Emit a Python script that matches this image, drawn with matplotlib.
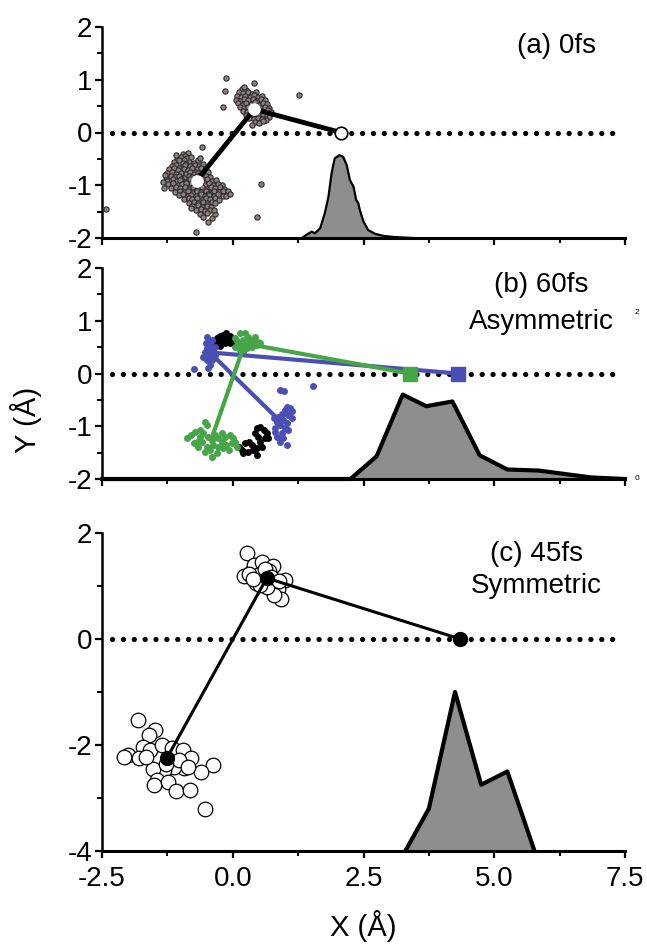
import matplotlib
matplotlib.use('Agg')
import matplotlib.pyplot as plt
from matplotlib.ticker import MultipleLocator

plt.rcParams['font.family'] = ['Liberation Sans', 'DejaVu Sans']

# ---------------- Panel (a) 0 fs ----------------
a_cloud1 = [(-0.96,-0.41),(-0.86,-0.38),(-0.91,-0.45),
    (-1.06,-0.50),(-0.99,-0.46),(-0.87,-0.49),(-0.79,-0.47),(-0.93,-0.52),
    (-1.12,-0.56),(-1.03,-0.53),(-0.95,-0.58),(-0.84,-0.55),(-0.75,-0.57),(-0.67,-0.53),(-0.89,-0.60),
    (-1.16,-0.63),(-1.08,-0.61),(-0.98,-0.65),(-0.91,-0.62),(-0.81,-0.64),(-0.72,-0.61),(-0.64,-0.63),(-0.56,-0.60),(-1.02,-0.68),
    (-1.21,-0.70),(-1.13,-0.67),(-1.04,-0.72),(-0.94,-0.69),(-0.86,-0.71),(-0.78,-0.68),(-0.69,-0.70),(-0.60,-0.67),(-0.51,-0.71),(-0.73,-0.74),
    (-1.25,-0.77),(-1.16,-0.75),(-1.08,-0.78),(-0.99,-0.76),(-0.89,-0.79),(-0.81,-0.75),(-0.74,-0.78),(-0.66,-0.76),(-0.56,-0.78),(-0.47,-0.75),(-0.62,-0.81),
    (-1.27,-0.84),(-1.19,-0.82),(-1.10,-0.85),(-1.02,-0.83),(-0.94,-0.86),(-0.84,-0.82),(-0.77,-0.85),(-0.69,-0.83),(-0.59,-0.86),(-0.52,-0.82),(-0.43,-0.85),(-0.98,-0.89),
    (-1.26,-0.91),(-1.15,-0.89),(-1.07,-0.92),(-1.00,-0.90),(-0.91,-0.93),(-0.82,-0.89),(-0.74,-0.92),(-0.65,-0.90),(-0.57,-0.93),(-0.49,-0.89),(-0.40,-0.92),(-0.32,-0.90),(-0.55,-0.96),
    (-1.23,-0.98),(-1.14,-0.96),(-1.04,-0.99),(-0.97,-0.97),(-0.87,-1.00),(-0.79,-0.96),(-0.72,-0.99),(-0.62,-0.97),(-0.54,-1.00),(-0.45,-0.96),(-0.37,-0.99),(-0.28,-0.97),(-0.20,-1.00),(-0.90,-0.95),
    (-1.18,-1.05),(-1.08,-1.03),(-1.01,-1.06),(-0.91,-1.04),(-0.83,-1.07),(-0.76,-1.03),(-0.66,-1.06),(-0.59,-1.04),(-0.49,-1.07),(-0.41,-1.03),(-0.34,-1.06),(-0.24,-1.04),(-0.16,-1.07),(-0.70,-1.10),
    (-1.11,-1.12),(-1.01,-1.10),(-0.94,-1.13),(-0.86,-1.11),(-0.76,-1.14),(-0.69,-1.10),(-0.61,-1.13),(-0.52,-1.11),(-0.42,-1.14),(-0.36,-1.10),(-0.27,-1.13),(-0.19,-1.11),(-0.47,-1.17),
    (-1.03,-1.19),(-0.95,-1.17),(-0.85,-1.20),(-0.79,-1.18),(-0.70,-1.21),(-0.60,-1.17),(-0.54,-1.20),(-0.45,-1.18),(-0.35,-1.21),(-0.28,-1.17),(-0.18,-1.20),
    (-0.93,-1.26),(-0.83,-1.24),(-0.77,-1.27),(-0.68,-1.25),(-0.58,-1.28),(-0.51,-1.24),(-0.43,-1.27),(-0.33,-1.25),(-0.26,-1.28),(-0.63,-1.31),
    (-0.84,-1.33),(-0.74,-1.31),(-0.67,-1.34),(-0.57,-1.32),(-0.50,-1.35),(-0.40,-1.31),(-0.33,-1.34),
    (-0.77,-1.40),(-0.66,-1.38),(-0.59,-1.41),(-0.49,-1.39),(-0.42,-1.42),
    (-0.71,-1.47),(-0.60,-1.45),(-0.53,-1.48),(-0.43,-1.46),
    (-0.63,-1.54),(-0.49,-1.52),(-0.56,-1.60),(-0.40,-1.62),(-0.47,-1.70),(-0.33,-1.55),
    (-1.34,-0.93),(-1.31,-1.05),(-1.30,-0.80),(-0.10,-1.10),(-0.13,-1.20),(-0.05,-1.16),
    (-0.80,-1.44),(-0.35,-1.47),(-1.08,-0.42),(-0.62,-0.48)]
a_cloud2 = [(0.17,0.83),(0.26,0.80),(0.21,0.87),
    (0.12,0.76),(0.20,0.74),(0.29,0.77),(0.37,0.73),(0.44,0.76),
    (0.08,0.69),(0.16,0.67),(0.24,0.70),(0.33,0.68),(0.41,0.71),(0.49,0.67),(0.56,0.70),
    (0.06,0.62),(0.14,0.60),(0.22,0.63),(0.30,0.61),(0.38,0.64),(0.46,0.60),(0.54,0.63),(0.62,0.61),
    (0.10,0.55),(0.18,0.53),(0.26,0.56),(0.34,0.54),(0.42,0.57),(0.50,0.53),(0.58,0.56),(0.66,0.54),
    (0.13,0.48),(0.21,0.46),(0.29,0.49),(0.37,0.47),(0.45,0.50),(0.53,0.46),(0.61,0.49),(0.69,0.47),
    (0.19,0.41),(0.27,0.39),(0.35,0.42),(0.43,0.40),(0.51,0.43),(0.59,0.39),(0.67,0.42),(0.73,0.38),
    (0.25,0.34),(0.33,0.32),(0.41,0.35),(0.49,0.33),(0.57,0.36),(0.65,0.32),(0.70,0.29),
    (0.32,0.27),(0.40,0.25),(0.48,0.28),(0.56,0.26),(0.63,0.24),
    (0.42,0.20),(0.50,0.18),(0.57,0.21),(0.36,0.14)]
a_outliers = [(-0.13,1.03),(-0.15,0.79),(-0.19,0.48),(0.41,0.93),(1.27,0.71),
    (-0.59,-0.28),(0.54,-0.98),(0.46,-1.61),(-0.71,-1.89),(-2.42,-1.45)]
a_atoms_x = [-0.69, 0.41, 2.07]
a_atoms_y = [-0.91, 0.44, 0.0]
a_hist_x = [1.32, 1.41, 1.51, 1.57, 1.67, 1.76, 1.83, 1.89, 1.95, 2.04, 2.11, 2.18,
            2.24, 2.31, 2.36, 2.40, 2.43, 2.50, 2.59, 2.72, 2.88, 3.07, 3.45]
a_hist_y = [-2.0, -1.94, -1.88, -1.91, -1.82, -1.53, -1.22, -0.77, -0.49, -0.43, -0.46, -0.62,
            -0.90, -1.03, -1.28, -1.34, -1.47, -1.69, -1.85, -1.92, -1.96, -1.98, -2.0]

# ---------------- Panel (b) 60 fs asymmetric ----------------
b_black = [(-0.31,0.67),(-0.24,0.71),(-0.18,0.73),(-0.12,0.70),(-0.05,0.71),(-0.02,0.65),
    (-0.08,0.60),(-0.15,0.57),(-0.21,0.60),(-0.28,0.59),(-0.32,0.54),(-0.24,0.52),(-0.05,0.57),
    (-0.12,0.76),(-0.19,0.65),(0.01,0.60),(-0.27,0.63),(-0.10,0.64),
    (0.11,-1.39),(0.17,-1.45),(0.20,-1.51),(0.30,-1.48),(0.36,-1.36),(0.32,-1.29),(0.46,-1.04),
    (0.52,-1.01),(0.59,-1.07),(0.65,-1.13),(0.62,-1.23),(0.52,-1.29),(0.55,-1.39),(0.46,-1.42),
    (0.39,-1.45),(0.46,-1.55),(0.68,-1.23),(0.43,-1.13),(0.49,-1.20),(0.23,-1.32)]
b_green = [(0.04,0.67),(0.14,0.76),(0.23,0.77),(0.30,0.70),(0.39,0.64),(0.49,0.60),(0.46,0.54),
    (0.36,0.51),(0.27,0.48),(0.17,0.51),(0.11,0.57),(0.04,0.51),(0.20,0.41),(0.33,0.57),(0.20,0.64),
    (0.43,0.70),(0.14,0.45),(0.52,0.57),(0.27,0.60),(0.08,0.62),(0.40,0.58),
    (-0.88,-1.23),(-0.79,-1.17),(-0.72,-1.10),(-0.63,-1.07),(-0.53,-0.91),(-0.50,-0.98),(-0.56,-1.13),
    (-0.47,-1.20),(-0.40,-1.26),(-0.34,-1.17),(-0.28,-1.23),(-0.21,-1.29),(-0.15,-1.20),(-0.05,-1.17),
    (0.01,-1.23),(-0.02,-1.32),(-0.12,-1.36),(-0.18,-1.42),(-0.28,-1.39),(-0.37,-1.36),(-0.44,-1.45),
    (-0.50,-1.39),(-0.59,-1.29),(-0.69,-1.29),(-0.75,-1.32),(-0.66,-1.39),(-0.40,-1.58),(-0.31,-1.51),
    (-0.08,-1.45),(0.04,-1.29),(0.08,-1.39),(-0.53,-1.48),(-0.21,-1.13),(-0.63,-1.20)]
b_blue = [(-0.50,0.70),(-0.47,0.60),(-0.44,0.54),(-0.50,0.48),(-0.53,0.41),(-0.44,0.38),(-0.37,0.45),
    (-0.34,0.35),(-0.47,0.32),(-0.56,0.32),(-0.50,0.26),(-0.40,0.26),(-0.44,0.16),(-0.47,0.10),
    (-0.34,0.51),(-0.40,0.64),(-0.75,0.08),(-0.52,0.58),(-0.42,0.44),
    (0.90,-0.31),(0.98,-0.34),(1.03,-0.63),(1.10,-0.66),(1.00,-0.69),(0.94,-0.76),(0.87,-0.82),
    (1.06,-0.79),(1.13,-0.85),(0.97,-0.88),(0.84,-0.91),(1.03,-0.94),(0.90,-0.98),(0.81,-1.04),
    (1.00,-1.04),(1.06,-1.07),(0.94,-1.13),(0.84,-1.20),(0.97,-1.23),(1.03,-1.36),(0.90,-1.29),
    (0.81,-1.10),(1.13,-0.72),(0.78,-0.85),(1.54,-0.24)]
b_green_bond_x = [-0.40, 0.23, 3.38]
b_green_bond_y = [-1.22, 0.57, 0.0]
b_blue_bond_x = [0.85, -0.44, 4.30]
b_blue_bond_y = [-0.85, 0.40, 0.0]
b_hist_x = [-2.5, 2.25, 2.75, 3.25, 3.70, 4.20, 4.72, 5.25, 5.85, 6.85, 7.5]
b_hist_y = [-2.0, -2.0, -1.57, -0.40, -0.62, -0.53, -1.55, -1.82, -1.84, -1.97, -2.0]

# ---------------- Panel (c) 45 fs symmetric ----------------
c_top = [(0.28,1.62),(0.22,1.18),(0.37,1.28),(0.41,1.40),(0.55,1.45),(0.77,1.37),(0.69,1.28),
    (0.49,1.21),(0.57,1.09),(0.45,1.05),(0.77,1.02),(1.00,1.12),(0.86,0.94),(0.93,0.75),(0.78,0.83),
    (0.65,0.98),(0.32,1.23),(0.61,1.32),(0.74,1.17),(0.89,1.09),(0.53,1.02),(0.39,1.13)]
c_bottom = [(-1.81,-1.53),(-1.48,-1.72),(-1.61,-1.81),(-1.71,-2.03),(-2.00,-2.19),(-2.08,-2.22),
    (-1.79,-2.25),(-1.58,-2.10),(-1.36,-2.00),(-1.16,-2.06),(-0.96,-2.10),(-0.79,-2.25),(-0.93,-2.44),
    (-1.12,-2.41),(-1.32,-2.47),(-1.52,-2.46),(-1.45,-2.66),(-1.24,-2.69),(-1.50,-2.76),(-1.08,-2.86),
    (-0.81,-2.84),(-0.37,-2.38),(-0.61,-2.50),(-0.53,-3.20),(-1.03,-2.28),(-1.66,-2.22),(-1.28,-2.35),
    (-0.85,-2.41)]
c_atoms_x = [-1.26, 0.65, 4.35]
c_atoms_y = [-2.25, 1.15, 0.0]
c_hist_x = [3.30, 3.75, 4.25, 4.75, 5.25, 5.77]
c_hist_y = [-4.0, -3.20, -1.00, -2.75, -2.50, -4.0]

x_ticks = [-2.5, 0.0, 2.5, 5.0, 7.5]
x_ticklabels = ['-2.5', '0.0', '2.5', '5.0', '7.5']

HIST_FC = '#8e8e8e'
BLUE = '#4b4fb3'
GREEN = '#45a547'

fig = plt.figure(figsize=(6.47, 9.44), dpi=100)
L, W = 102/647, 523/647

def ax_at(top_px, bot_px):
    return fig.add_axes([L, 1-bot_px/944, W, (bot_px-top_px)/944])

axa = ax_at(27, 238)
axb = ax_at(268, 479)
axc = ax_at(533, 851)

def style(ax, ylim, ymaj, ymin_step, show_x):
    ax.set_xlim(-2.5, 7.5)
    ax.set_ylim(*ylim)
    for s in ('top', 'right'):
        ax.spines[s].set_visible(False)
    ax.spines['left'].set_linewidth(1.8)
    ax.spines['bottom'].set_linewidth(2.2)
    ax.set_xticks(x_ticks)
    ax.xaxis.set_minor_locator(MultipleLocator(1.25))
    ax.set_yticks(ymaj)
    ax.yaxis.set_minor_locator(MultipleLocator(ymin_step))
    ax.tick_params(which='major', length=5, width=1.6, direction='out')
    ax.tick_params(which='minor', length=3.5, width=1.4, direction='out')
    ax.tick_params(axis='y', labelsize=20, pad=2)
    ax.set_yticklabels([str(int(v)) for v in ymaj])
    if show_x:
        ax.set_xticklabels(x_ticklabels, fontsize=20)
        ax.tick_params(axis='x', pad=6)
    else:
        ax.set_xticklabels([])

def dotted_zero(ax):
    ax.axhline(0, xmin=0.02, xmax=0.995, color='black', lw=3.8,
               linestyle=(0, (0.01, 2.05)), dash_capstyle='round', zorder=2)

# Panel (a)
style(axa, (-2, 2), [-2, -1, 0, 1, 2], 0.5, False)
dotted_zero(axa)
axa.fill_between(a_hist_x, a_hist_y, -2, color=HIST_FC, lw=0, zorder=1)
axa.plot(a_hist_x, a_hist_y, color='black', lw=1.6, zorder=3)
for pts in (a_cloud1, a_cloud2, a_outliers):
    axa.plot([p[0] for p in pts], [p[1] for p in pts], 'o', ms=3.8,
             mfc='#8f8080', mec='#2c2c2c', mew=0.8, zorder=3, clip_on=False)
axa.plot(a_atoms_x, a_atoms_y, color='black', lw=3.5, zorder=4, solid_capstyle='round')
axa.plot(a_atoms_x[:2], a_atoms_y[:2], 'o', ms=8, mfc='white', mec='white', zorder=5)
axa.plot(a_atoms_x[2:], a_atoms_y[2:], 'o', ms=9, mfc='white', mec='black', mew=1.2, zorder=5)
axa.text(6.95, 1.64, '(a) 0fs', fontsize=20, ha='right', va='center')

# Panel (b)
style(axb, (-2, 2), [-2, -1, 0, 1, 2], 0.5, False)
dotted_zero(axb)
axb.fill_between(b_hist_x, b_hist_y, -2, color=HIST_FC, lw=0, zorder=1)
axb.plot(b_hist_x, b_hist_y, color='black', lw=3, zorder=3, clip_on=False)
axb.plot([p[0] for p in b_black], [p[1] for p in b_black], 'o', ms=5, color='black', mew=0, zorder=3)
axb.plot([p[0] for p in b_blue], [p[1] for p in b_blue], 'o', ms=5, color=BLUE, mew=0, zorder=3)
axb.plot([p[0] for p in b_green], [p[1] for p in b_green], 'o', ms=5, color=GREEN, mew=0, zorder=3)
axb.plot(b_blue_bond_x, b_blue_bond_y, color=BLUE, lw=3, zorder=4)
axb.plot(b_green_bond_x, b_green_bond_y, color=GREEN, lw=3, zorder=4)
axb.plot(b_blue_bond_x[2:], b_blue_bond_y[2:], 's', ms=10, color=BLUE, zorder=5)
axb.plot(b_green_bond_x[2:], b_green_bond_y[2:], 's', ms=10, color=GREEN, zorder=5)
axb.text(5.9, 1.68, '(b) 60fs', fontsize=20, ha='center', va='center')
axb.text(5.9, 0.98, 'Asymmetric', fontsize=20, ha='center', va='center')
axb.text(7.73, 1.15, '2', fontsize=6, ha='center', va='center', clip_on=False)
axb.text(7.73, -2.0, '0', fontsize=6, ha='center', va='center', clip_on=False)

# Panel (c)
style(axc, (-4, 2), [-4, -2, 0, 2], 1, True)
dotted_zero(axc)
axc.fill_between(c_hist_x, c_hist_y, -4, color=HIST_FC, lw=0, zorder=1)
axc.plot(c_hist_x, c_hist_y, color='black', lw=3, zorder=3)
for pts in (c_top, c_bottom):
    axc.plot([p[0] for p in pts], [p[1] for p in pts], 'o', ms=10.5, mfc='white',
             mec='black', mew=0.9, zorder=3)
axc.plot(c_atoms_x, c_atoms_y, color='black', lw=2.2, zorder=4)
axc.plot(c_atoms_x, c_atoms_y, 'o', ms=10, color='black', zorder=5)
axc.text(5.8, 1.6, '(c) 45fs', fontsize=20, ha='center', va='center')
axc.text(5.8, 1.0, 'Symmetric', fontsize=20, ha='center', va='center')

fig.text(0.040, 1-420/944, 'Y (Å)', rotation=90, fontsize=21, ha='center', va='center')
fig.text(363/647, 1-926/944, 'X (Å)', fontsize=21, ha='center', va='center')

fig.savefig('out.png', dpi=100)
